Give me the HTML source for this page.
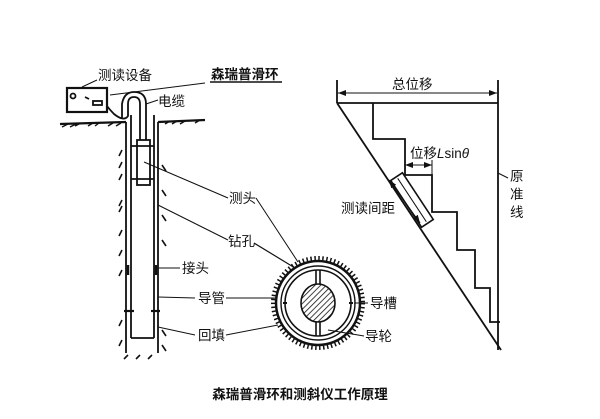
<!DOCTYPE html>
<html><head><meta charset="utf-8"><style>
body{margin:0;background:#fff;}
svg{display:block}
text{font-family:"Liberation Sans","Noto Sans CJK SC",sans-serif;fill:#111;}
</style></head><body>
<svg width="600" height="419" viewBox="0 0 600 419" xmlns="http://www.w3.org/2000/svg">
<defs>
<pattern id="h" width="4" height="4" patternUnits="userSpaceOnUse" patternTransform="rotate(45)"><line x1="0" y1="0" x2="0" y2="4" stroke="#111" stroke-width="1.6"/></pattern>
<marker id="a" markerWidth="8" markerHeight="6" refX="8" refY="3" orient="auto"><path d="M0,0L8,3L0,6z" fill="#111"/></marker>
</defs>
<g stroke="#111" fill="none" stroke-width="1.8">
<!-- box -->
<rect x="67" y="88" width="40" height="24" stroke-width="2.2"/>
<circle cx="73" cy="96" r="2.5"/>
<rect x="93" y="101" width="9" height="4"/>
<line x1="85" y1="97" x2="89" y2="99"/>
<!-- ground -->
<path d="M60,124 L126,122 M158,122 L205,120" stroke-width="2.2"/>
<path d="M62,127 l6,-3 M70,127 l6,-3 M75,126 l6,-3 M88,126 l5,-3 M95,126 l4,-3 M108,126 l5,-3 M116,126 l5,-3 M165,124 l5,-3 M172,124 l5,-3 M180,124 l5,-3 M195,123 l5,-3" stroke-width="1.4"/>
<!-- borehole -->
<line x1="126" y1="122" x2="126" y2="353"/>
<line x1="158" y1="122" x2="158" y2="353"/>
<line x1="131" y1="115" x2="131" y2="338"/>
<line x1="154" y1="115" x2="154" y2="338"/>
<line x1="131" y1="338" x2="154" y2="338"/>
<line x1="124" y1="311" x2="134" y2="311" stroke-width="2.2"/>
<line x1="151" y1="311" x2="160" y2="311" stroke-width="2.2"/>
<line x1="156" y1="265" x2="156" y2="275" stroke-width="2.5"/>
<line x1="128" y1="265" x2="128" y2="275" stroke-width="2.5"/>
<path d="M122,150 l-3,6 M122,162 l-3,6 M122,174 l-3,6 M122,200 l-3,6 M122,206 l-3,6 M122,230 l-3,6 M122,250 l-3,6 M122,270 l-3,6 M122,320 l-3,6 M122,340 l-3,6 M162,165 l4,6 M162,190 l4,6 M162,215 l4,6 M162,240 l4,6 M162,330 l4,6 M162,345 l4,6 M128,355 l-4,4 M140,355 l-4,4 M152,355 l-4,4" stroke-width="1.6"/>
<!-- probe -->
<rect x="137" y="140" width="13" height="45"/>
<line x1="131" y1="146" x2="154" y2="146"/>
<line x1="131" y1="179" x2="154" y2="179"/>
<!-- cable -->
<path d="M140,140 L140,104 Q140,97 134,97 Q128,97 128,104 L128,116 Q124,122 114,114 Q110,110 107,106"/>
<path d="M146,140 L146,104 Q146,92 134,92 Q124,92 122,104 L122,118"/>
<!-- leaders -->
<path d="M97,80 L82,87" stroke-width="1"/>
<line x1="110" y1="95" x2="205" y2="83" stroke-width="1"/>
<line x1="146" y1="104" x2="158" y2="100" stroke-width="1"/>
<line x1="144" y1="162" x2="228" y2="198" stroke-width="1"/>
<line x1="158" y1="205" x2="228" y2="240" stroke-width="1"/>
<line x1="256" y1="198" x2="298" y2="262" stroke-width="1"/>
<line x1="254" y1="243" x2="295" y2="268" stroke-width="1.2"/>
<line x1="158" y1="268" x2="180" y2="268" stroke-width="1"/>
<line x1="158" y1="297" x2="195" y2="298" stroke-width="1"/>
<line x1="226" y1="298" x2="276" y2="298" stroke-width="1"/>
<line x1="158" y1="327" x2="195" y2="335" stroke-width="1"/>
<line x1="226" y1="335" x2="278" y2="325" stroke-width="1"/>
<line x1="354" y1="303" x2="368" y2="303" stroke-width="1"/>
<line x1="328" y1="330" x2="364" y2="336" stroke-width="1"/>
<line x1="210" y1="82" x2="282" y2="82" stroke-width="1.4"/>
<!-- cross section -->
<circle cx="318" cy="303" r="45" stroke-width="4" stroke-dasharray="1.5 2.5"/>
<circle cx="318" cy="303" r="42" stroke-width="2.5"/>
<circle cx="318" cy="303" r="37" stroke-width="1.4"/>
<circle cx="318" cy="303" r="33" stroke-width="1.6"/>
<ellipse cx="318" cy="303" rx="17" ry="19" fill="url(#h)" stroke-width="1.6"/>
<path d="M316,270 v14 M320,270 v14 M316,322 v14 M320,322 v14" stroke-width="1.6"/>
<path d="M283,303 h4 M349,303 h4" stroke-width="2"/>
<!-- right diagram -->
<line x1="337" y1="80" x2="337" y2="103"/>
<line x1="498" y1="80" x2="498" y2="350"/>
<line x1="338" y1="93" x2="497" y2="93" stroke-width="1" marker-end="url(#a)"/>
<line x1="497" y1="93" x2="338" y2="93" stroke-width="1" marker-end="url(#a)"/>
<line x1="337" y1="103" x2="498" y2="103"/>
<line x1="337" y1="103" x2="501" y2="350"/>
<path d="M373,103 V139 H405 V175 H432 V212 H457 V250 H475 V288 H490 V322 H500"/>
<line x1="405" y1="165" x2="432" y2="165" stroke-width="1" marker-end="url(#a)"/>
<line x1="432" y1="165" x2="405" y2="165" stroke-width="1" marker-end="url(#a)"/>
<line x1="432" y1="160" x2="432" y2="175" stroke-width="1"/>
<g transform="translate(412,200) rotate(56.6)">
<rect x="-28" y="-7" width="56" height="14" stroke-width="1.6"/>
<line x1="-26" y1="0" x2="26" y2="0" stroke-width="1"/>
</g>
<line x1="389" y1="180" x2="420" y2="223" stroke-width="1" marker-end="url(#a)"/>
<line x1="420" y1="223" x2="389" y2="180" stroke-width="1" marker-end="url(#a)"/>
<line x1="498" y1="173" x2="508" y2="178" stroke-width="1"/>
</g>
<g font-size="13.5">
<text x="98" y="80">测读设备</text>
<text x="211" y="79" font-weight="bold">森瑞普滑环</text>
<text x="158" y="106">电缆</text>
<text x="229" y="203">测头</text>
<text x="228" y="246">钻孔</text>
<text x="182" y="273">接头</text>
<text x="198" y="303">导管</text>
<text x="198" y="340">回填</text>
<text x="370" y="308">导槽</text>
<text x="365" y="341">导轮</text>
<text x="392" y="89">总位移</text>
<text x="410" y="158">位移<tspan font-style="italic">L</tspan>sin<tspan font-style="italic">θ</tspan></text>
<text x="341" y="213">测读间距</text>
<text x="510" y="181">原</text>
<text x="510" y="199">准</text>
<text x="510" y="217">线</text>
<text x="300" y="399" text-anchor="middle" font-weight="bold">森瑞普滑环和测斜仪工作原理</text>
</g>
</svg>
</body></html>
